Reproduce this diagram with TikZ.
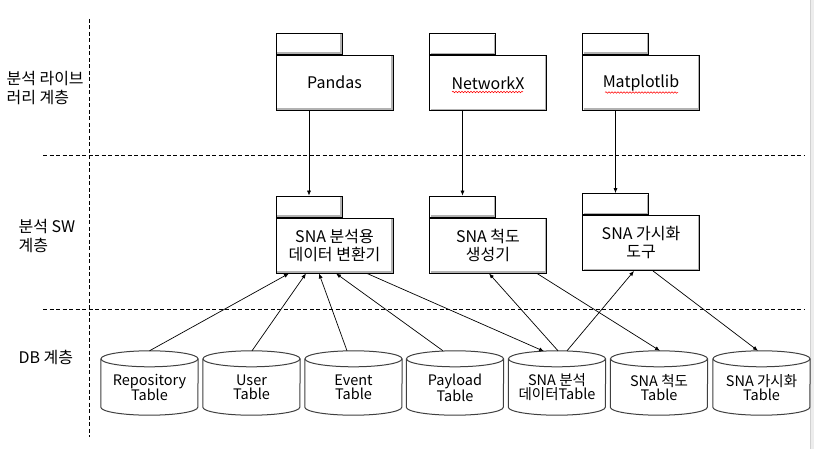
\documentclass[tikz,border=0pt]{standalone}
\usepackage{fontspec}
\setmainfont{Noto Sans CJK KR}
\usetikzlibrary{arrows.meta,decorations.pathmorphing}
\tikzset{
  every node/.style={font=\fontsize{16}{18}\selectfont},
  bevel/.style={path picture={\draw[black!30,line width=1.3pt]
      ([xshift=1pt,yshift=1pt]path picture bounding box.south west) --
      ([xshift=-1pt,yshift=1pt]path picture bounding box.south east) --
      ([xshift=-1pt,yshift=-1pt]path picture bounding box.north east);}},
  pkgbody/.style={draw=black, line width=0.9pt, fill=white, bevel,
      minimum width=117pt, minimum height=55pt, inner sep=0pt, align=center},
  pkgtab/.style={draw=black, line width=0.9pt, fill=white, bevel,
      minimum width=66pt, minimum height=21pt, inner sep=0pt, anchor=south west},
  cylnode/.style={minimum width=97pt, minimum height=64pt, inner sep=0pt},
  cyltext/.style={font=\fontsize{14.5}{14}\selectfont, align=center},
  cyl/.style={draw=black!75, line width=1pt},
  divider/.style={line width=0.8pt, dash pattern=on 4pt off 2.5pt},
  arr/.style={line width=0.7pt, -{Latex[length=5pt,width=4pt]}},
  squig/.style={red, line width=0.5pt, decorate,
      decoration={snake, segment length=3pt, amplitude=0.8pt}},
  layerlabel/.style={anchor=west, align=left, font=\fontsize{16}{19}\selectfont}
}
\newcommand\dbcyl[4]{%
  \node[cylnode] (#1) at (#2,383) {};
  \fill[white] ([yshift=-8pt]#1.north west) -- ([yshift=8pt]#1.south west)
    arc[start angle=180, end angle=360, x radius=48.5pt, y radius=8pt]
    -- ([yshift=-8pt]#1.north east) -- cycle;
  \fill[white] ([yshift=-8pt]#1.north) ellipse [x radius=48.5pt, y radius=8pt];
  \draw[cyl] ([yshift=-8pt]#1.north west) -- ([yshift=8pt]#1.south west)
    arc[start angle=180, end angle=360, x radius=48.5pt, y radius=8pt]
    -- ([yshift=-8pt]#1.north east);
  \draw[cyl] ([yshift=-8pt]#1.north) ellipse [x radius=48.5pt, y radius=8pt];
  \node[cyltext] (#1t) at ([yshift=-4.5pt]#1.center) {#3\\#4};
}
\begin{document}
\begin{tikzpicture}[x=1pt,y=-1pt]
\useasboundingbox (0,0) rectangle (814,449);
\fill[white] (0,0) rectangle (814,449);
\fill[black!7] (810,0) rectangle (814,449);
\draw[black!18, line width=0.5pt] (810,0) -- (810,449);

% dividers
\draw[divider] (89,19) -- (89,437);
\draw[divider] (43,155) -- (805,155);
\draw[divider] (43,309) -- (805,309);

% layer labels
\node[layerlabel] (l1) at (3,88.5) {분석 라이브\\러리 계층};
\node[layerlabel] (l2) at (15,236.5) {분석 SW\\계층};
\node[layerlabel] (l3) at (15,357) {DB 계층};

% library packages
\node[pkgbody] (p1) at (334.5,82.5) {Pandas};
\node[pkgtab] (p1tab) at (p1.north west) {};
\node[pkgbody] (p2) at (488,83) {NetworkX};
\node[pkgtab] (p2tab) at (p2.north west) {};
\node[pkgbody] (p3) at (641,82.5) {Matplotlib};
\node[pkgtab] (p3tab) at (p3.north west) {};
\draw[squig] ([xshift=-36pt,yshift=-9pt]p2.center) -- ([xshift=35pt,yshift=-9pt]p2.center);
\draw[squig] ([xshift=-36pt,yshift=-10pt]p3.center) -- ([xshift=37pt,yshift=-10pt]p3.center);

% SW packages
\node[pkgbody] (b1) at (334.5,245.5) {SNA 분석용\\데이터 변환기};
\node[pkgtab] (b1tab) at (b1.north west) {};
\node[pkgbody] (b2) at (488,245.5) {SNA 척도\\생성기};
\node[pkgtab] (b2tab) at (b2.north west) {};
\node[pkgbody] (b3) at (641,243) {SNA 가시화\\도구};
\node[pkgtab] (b3tab) at (b3.north west) {};

% DB tables
\dbcyl{c1}{149.5}{Repository}{Table}
\dbcyl{c2}{251.5}{User}{Table}
\dbcyl{c3}{353.5}{Event}{Table}
\dbcyl{c4}{455}{Payload}{Table}
\dbcyl{c5}{557}{SNA 분석}{데이터Table}
\dbcyl{c6}{659}{SNA 척도}{Table}
\dbcyl{c7}{761.5}{SNA 가시화}{Table}

% library -> SW
\draw[arr] (p1.south -| b1tab.north) -- (b1tab.north);
\draw[arr] (p2.south -| b2tab.north) -- (b2tab.north);
\draw[arr] (p3.south -| b3tab.north) -- (b3tab.north);

% DB <-> SW
\draw[arr] (c1.north) -- ([xshift=-45.5pt]b1.south);
\draw[arr] ([xshift=0.5pt]c2.north) -- ([xshift=-28.5pt]b1.south);
\draw[arr] ([xshift=-6.5pt]c3.north) -- ([xshift=-15.5pt]b1.south);
\draw[arr] ([xshift=-12pt]c4.north) -- ([xshift=1.5pt]b1.south);
\draw[arr] ([xshift=32.5pt]b1.south) -- ([xshift=-13pt,yshift=-0.5pt]c5.north);
\draw[arr] ([xshift=1pt]c5.north) -- ([xshift=1pt]b2.south);
\draw[arr] ([xshift=10pt]c5.north) -- ([xshift=-7pt]b3.south);
\draw[arr] ([xshift=49pt]b2.south) -- ([xshift=1pt]c6.north);
\draw[arr] ([xshift=12pt]b3.south) -- ([xshift=-3.5pt]c7.north);
\end{tikzpicture}
\end{document}
